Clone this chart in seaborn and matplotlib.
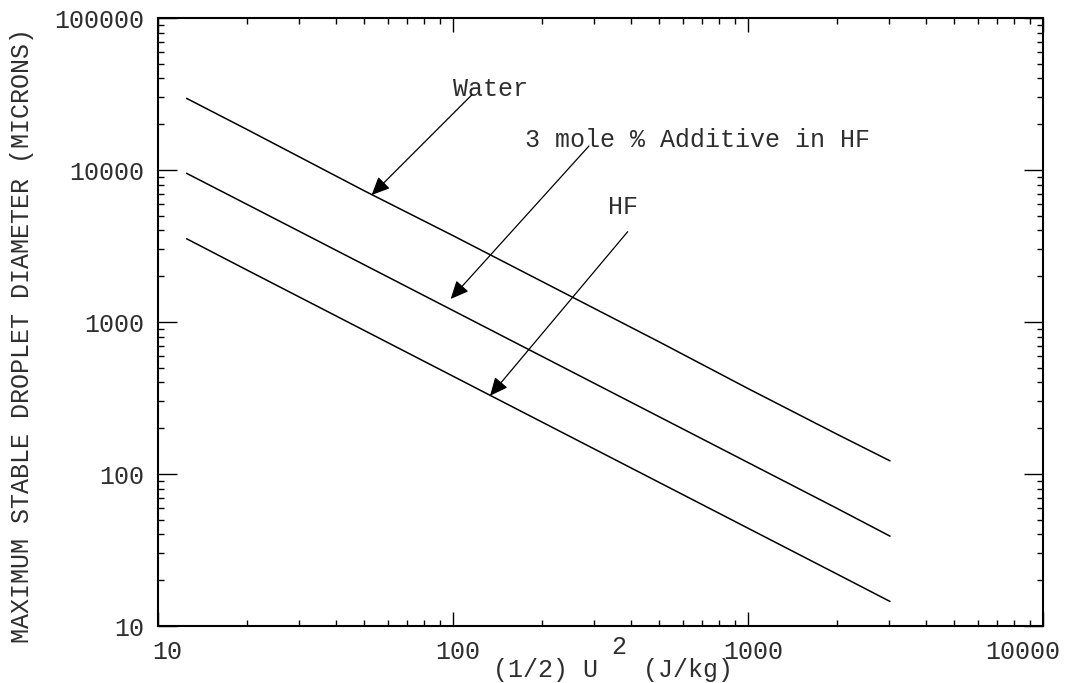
import numpy as np
import pandas as pd
import seaborn as sns
import matplotlib
matplotlib.use("Agg")
import matplotlib.pyplot as plt
from matplotlib.ticker import LogLocator, NullFormatter, FixedFormatter, FixedLocator
from matplotlib.transforms import ScaledTranslation

# Maximum stable droplet diameter vs specific kinetic energy
energy = [12.5, 20, 50, 100, 200, 500, 1000, 2000, 3030]          # (1/2) U^2, J/kg
water = [29600, 18500, 7300, 3700, 1850, 740, 365, 183, 122]       # microns
additive = [9510, 5950, 2380, 1190, 595, 238, 119, 59.5, 39]       # 3 mole % additive in HF
hf = [3530, 2200, 880, 440, 220, 88, 44, 22, 14.5]                 # HF

series_names = ["Water", "3 mole % Additive in HF", "HF"]
x_ticks = [10, 100, 1000, 10000]
x_tick_labels = ["10", "100", "1000", "10000"]
y_ticks = [10, 100, 1000, 10000, 100000]
y_tick_labels = ["10", "100", "1000", "10000", "100000"]

df = pd.DataFrame({
    "energy": energy * 3,
    "diameter": water + additive + hf,
    "fluid": sum([[n] * len(energy) for n in series_names], []),
})

sns.set_theme(style="ticks")
plt.rcParams["font.family"] = ["Liberation Mono", "DejaVu Sans Mono"]

FS = 18
TXT = "#2e2e2e"
fig = plt.figure(figsize=(10.7, 6.83), dpi=100)
ax = fig.add_axes([158 / 1070, 1 - 626 / 683, 885 / 1070, 608 / 683])

sns.lineplot(data=df, x="energy", y="diameter", hue="fluid",
             palette=["black"] * 3, legend=False, lw=1.1, ax=ax)

ax.set_xscale("log")
ax.set_yscale("log")
ax.set_xlim(10, 10000)
ax.set_ylim(10, 100000)

ax.xaxis.set_major_locator(FixedLocator(x_ticks))
ax.xaxis.set_major_formatter(FixedFormatter(x_tick_labels))
ax.yaxis.set_major_locator(FixedLocator(y_ticks))
ax.yaxis.set_major_formatter(FixedFormatter(y_tick_labels))
for axis in (ax.xaxis, ax.yaxis):
    axis.set_minor_locator(LogLocator(base=10, subs=np.arange(2, 10), numticks=20))
    axis.set_minor_formatter(NullFormatter())

for s in ax.spines.values():
    s.set_linewidth(1.5)
    s.set_color("black")

ax.tick_params(axis="both", which="both", direction="in", top=True, right=True,
               color="black", width=1.0, labelcolor=TXT)
ax.tick_params(axis="x", which="major", length=10, pad=10, labelsize=FS)
ax.tick_params(axis="y", which="major", length=14, pad=10, labelsize=FS)
ax.tick_params(axis="both", which="minor", length=4.5)

ax.set_ylabel("MAXIMUM STABLE DROPLET DIAMETER (MICRONS)", fontsize=FS,
              va="center", color=TXT)
ax.yaxis.set_label_coords(-0.1537, 0.4786)
ax.set_xlabel("(1/2) U   (J/kg)", fontsize=FS, va="center", color=TXT)
ax.xaxis.set_label_coords(0.5136, -(670 - 626) / 608)
# exponent of U, raised above the label line
fig.text(619 / 1070, 1 - 647 / 683, "2", fontsize=FS, ha="center", va="center",
         color=TXT)

# Labels with pointer arrows
labels = [
    ("Water", (133.5, 34110), (115.7, 31140), (53.0, 6846)),
    ("3 mole % Additive in HF", (674.5, 15870), (289, 14385), (98.2, 1417)),
    ("HF", (378.4, 5668), (391, 3928), (133.5, 327)),
]
for text, tpos, tail, head in labels:
    ax.text(*tpos, text, fontsize=FS, ha="center", va="center", color=TXT)
    ax.annotate("", xy=head, xytext=tail,
                arrowprops=dict(arrowstyle="-|>,head_length=0.55,head_width=0.25",
                                mutation_scale=20, color="black", lw=0.9,
                                shrinkA=0, shrinkB=0))

# Nudge x tick labels horizontally (pixels) so the last one stays inside the figure
fig.canvas.draw()
x_label_shift = [9, 5, 5, -20]
for tick, dx in zip(ax.xaxis.get_major_ticks(), x_label_shift):
    tick.label1.set_transform(tick.label1.get_transform()
                              + ScaledTranslation(dx / 100, 0, fig.dpi_scale_trans))

fig.savefig("out.png", dpi=100)
